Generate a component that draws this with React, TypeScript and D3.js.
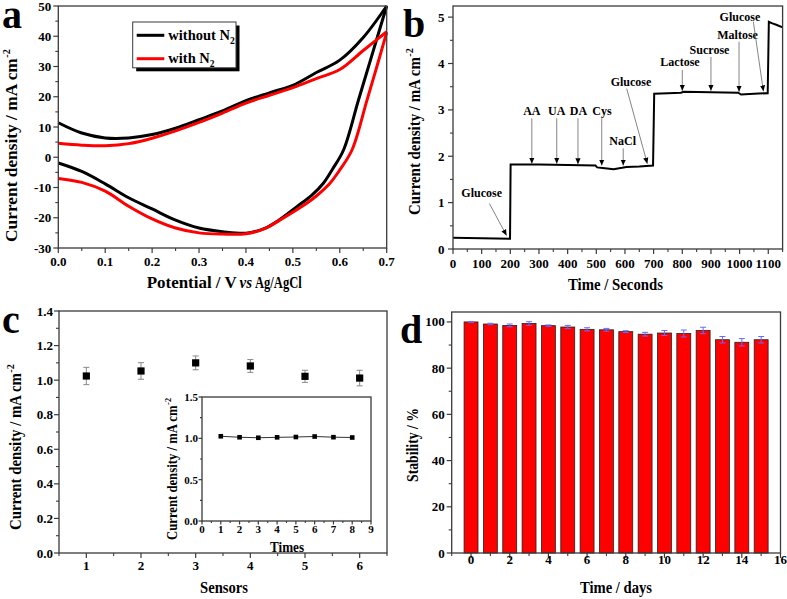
import React from "react";
import * as d3 from "d3";

const FONT = "'Liberation Serif','Times New Roman',serif";

// ---------------- Panel a : cyclic voltammograms ----------------
const aTicksX = [0, 0.1, 0.2, 0.3, 0.4, 0.5, 0.6, 0.7];
const aTicksY = [-30, -20, -10, 0, 10, 20, 30, 40, 50];
const aFwdE = [0, 0.05, 0.1, 0.15, 0.2, 0.25, 0.3, 0.35, 0.4, 0.45, 0.5, 0.55, 0.6, 0.65, 0.7];
const aBlackFwdJ = [11.4, 8.0, 6.4, 6.4, 7.5, 9.6, 12.4, 15.3, 18.7, 21.3, 23.8, 28.0, 32.1, 39.6, 50];
const aRedFwdJ = [4.6, 4.0, 3.8, 4.5, 6.3, 8.7, 11.5, 14.6, 17.9, 20.5, 23.0, 26.0, 29.0, 35.3, 41.5];
const aBlackRevE = [0.7, 0.67, 0.64, 0.608, 0.585, 0.565, 0.54, 0.508, 0.47, 0.44, 0.4, 0.35, 0.3, 0.25, 0.2, 0.15, 0.1, 0.05, 0];
const aBlackRevJ = [50, 34.5, 19, 2.4, -3.8, -8.6, -12.6, -16.4, -20.8, -23.5, -25.1, -24.6, -23.4, -20.8, -17.1, -13.4, -8.8, -4.7, -1.9];
const aRedRevE = [0.7, 0.68, 0.658, 0.626, 0.6, 0.579, 0.55, 0.519, 0.473, 0.44, 0.4, 0.35, 0.3, 0.25, 0.2, 0.15, 0.1, 0.05, 0];
const aRedRevJ = [41.3, 30.5, 18.9, 2.4, -4.2, -8.6, -12.8, -16.3, -20.7, -23.6, -25.3, -25.4, -25, -23.4, -20.4, -16.2, -11.2, -8.3, -7];
const aSeriesNames = ["without N", "with N"];
const aSeriesColors = ["#000000", "#ff0000"];

// ---------------- Panel b : amperometric response ----------------
const bTicksX = [0, 100, 200, 300, 400, 500, 600, 700, 800, 900, 1000, 1100];
const bTicksY = [0, 1, 2, 3, 4, 5];
const bTime = [0, 100, 199, 201, 300, 400, 497, 503, 530, 560, 590, 605, 650, 698, 702, 750, 795, 805, 900, 995, 1005, 1050, 1098, 1102, 1112, 1130, 1150];
const bCurrent = [0.24, 0.23, 0.22, 1.82, 1.82, 1.81, 1.8, 1.76, 1.74, 1.72, 1.75, 1.77, 1.78, 1.8, 3.35, 3.36, 3.37, 3.39, 3.38, 3.37, 3.33, 3.35, 3.36, 4.9, 4.87, 4.83, 4.78];
const bLabels = ["Glucose", "AA", "UA", "DA", "Cys", "NaCl", "Glucose", "Lactose", "Sucrose", "Maltose", "Glucose"];
const bLabelT = [100, 275, 362, 438, 520, 592, 621, 792, 895, 993, 1001];
const bLabelJ = [1.21, 2.97, 2.97, 2.97, 2.97, 2.33, 3.61, 4.04, 4.3, 4.61, 5.0];
const bArrowT1 = [127, 275, 362, 436, 519, 594, 606, 800, 900, 998, 1048];
const bArrowJ1 = [0.98, 2.82, 2.82, 2.82, 2.82, 2.17, 3.46, 3.86, 4.14, 4.47, 4.9];
const bArrowT2 = [187, 275, 362, 436, 519, 594, 678, 800, 900, 998, 1083];
const bArrowJ2 = [0.29, 1.84, 1.84, 1.83, 1.8, 1.8, 1.84, 3.41, 3.41, 3.39, 3.4];

// ---------------- Panel c : reproducibility ----------------
const cSensors = [1, 2, 3, 4, 5, 6];
const cValues = [1.024, 1.053, 1.1, 1.082, 1.022, 1.012];
const cErrors = [0.05, 0.048, 0.04, 0.037, 0.035, 0.045];
const cTicksY = [0, 0.2, 0.4, 0.6, 0.8, 1.0, 1.2, 1.4];
const cInsetTimes = [1, 2, 3, 4, 5, 6, 7, 8];
const cInsetValues = [1.025, 1.013, 1.007, 1.012, 1.016, 1.022, 1.014, 1.01];
const cInsetTicksX = [0, 1, 2, 3, 4, 5, 6, 7, 8, 9];
const cInsetTicksY = [0, 0.5, 1.0, 1.5];

// ---------------- Panel d : stability ----------------
const dDays = [0, 1, 2, 3, 4, 5, 6, 7, 8, 9, 10, 11, 12, 13, 14, 15];
const dStability = [100, 99.1, 98.5, 99.3, 98.4, 97.8, 96.8, 96.6, 95.8, 94.7, 95.2, 95.0, 96.3, 92.3, 91.2, 92.3];
const dErrors = [0.2, 0.3, 0.6, 0.8, 0.3, 0.7, 0.7, 0.6, 0.4, 0.8, 1.1, 1.5, 1.4, 1.4, 1.6, 1.4];
const dTicksX = [0, 2, 4, 6, 8, 10, 12, 14, 16];
const dTicksY = [0, 20, 40, 60, 80, 100];

const FRAME = "#3a3a3a";

type AxesProps = {
  xs: d3.ScaleLinear<number, number>;
  ys: d3.ScaleLinear<number, number>;
  xMajor: number[];
  xMinor: number[];
  yMajor: number[];
  yMinor: number[];
  xFmt: (v: number) => string;
  yFmt: (v: number) => string;
  xLabOff: number;
  yLabOff: number;
  fs: number;
  majLen?: number;
  minLen?: number;
};

function Axes(p: AxesProps) {
  const [x0, x1] = p.xs.range();
  const [y0, y1] = p.ys.range();
  const maj = p.majLen ?? 5;
  const min = p.minLen ?? 3;
  return (
    <g>
      <rect x={x0} y={y1} width={x1 - x0} height={y0 - y1} fill="none" stroke={FRAME} strokeWidth={1.3} />
      {p.xMajor.map((t, i) => (
        <line key={"xM" + i} x1={p.xs(t)} x2={p.xs(t)} y1={y0} y2={y0 + maj} stroke={FRAME} strokeWidth={1.2} />
      ))}
      {p.xMinor.map((t, i) => (
        <line key={"xm" + i} x1={p.xs(t)} x2={p.xs(t)} y1={y0} y2={y0 + min} stroke={FRAME} strokeWidth={1.1} />
      ))}
      {p.yMajor.map((t, i) => (
        <line key={"yM" + i} x1={x0} x2={x0 - maj} y1={p.ys(t)} y2={p.ys(t)} stroke={FRAME} strokeWidth={1.2} />
      ))}
      {p.yMinor.map((t, i) => (
        <line key={"ym" + i} x1={x0} x2={x0 - min} y1={p.ys(t)} y2={p.ys(t)} stroke={FRAME} strokeWidth={1.1} />
      ))}
      {p.xMajor.map((t, i) => (
        <text key={"xl" + i} x={p.xs(t)} y={y0 + p.xLabOff} textAnchor="middle" fontSize={p.fs} fontWeight="bold">
          {p.xFmt(t)}
        </text>
      ))}
      {p.yMajor.map((t, i) => (
        <text key={"yl" + i} x={x0 - p.yLabOff} y={p.ys(t)} dy="0.35em" textAnchor="end" fontSize={p.fs} fontWeight="bold">
          {p.yFmt(t)}
        </text>
      ))}
    </g>
  );
}

function YTitle({ x, yStart, yEnd, fs, text, sup = true }: any) {
  const supLen = sup ? fs * 0.6 : 0;
  const L = yStart - yEnd - supLen;
  return (
    <g transform={`translate(${x},${yStart}) rotate(-90)`}>
      <text x={0} y={0} fontSize={fs} fontWeight="bold" textLength={L} lengthAdjust="spacingAndGlyphs">
        {text}
      </text>
      {sup ? (
        <text x={L + 0.5} y={-fs * 0.42} fontSize={fs * 0.6} fontWeight="bold">
          -2
        </text>
      ) : null}
    </g>
  );
}

function XTitle({ x0, x1, y, fs, text, italic = false }: any) {
  return (
    <text
      x={x0}
      y={y}
      fontSize={fs}
      fontWeight="bold"
      fontStyle={italic ? "italic" : "normal"}
      textLength={x1 - x0}
      lengthAdjust="spacingAndGlyphs"
    >
      {text}
    </text>
  );
}

function minorBetween(ticks: number[], extraBefore = false, extraAfter = false) {
  const out: number[] = [];
  for (let i = 0; i < ticks.length - 1; i++) out.push((ticks[i] + ticks[i + 1]) / 2);
  const step = ticks[1] - ticks[0];
  if (extraBefore) out.unshift(ticks[0] - step / 2);
  if (extraAfter) out.push(ticks[ticks.length - 1] + step / 2);
  return out;
}

export default function App() {
  // ---- panel a
  const ax = d3.scaleLinear().domain([0, 0.7]).range([58.3, 386.7]);
  const ay = d3.scaleLinear().domain([-30, 50]).range([248, 6]);
  const aLine = d3
    .line<[number, number]>()
    .x((d) => ax(d[0]))
    .y((d) => ay(d[1]))
    .curve(d3.curveCatmullRom.alpha(0.5));
  const zip = (a: number[], b: number[]) => a.map((v, i) => [v, b[i]] as [number, number]);
  const aCurves = [
    { color: aSeriesColors[0], fwd: zip(aFwdE, aBlackFwdJ), rev: zip(aBlackRevE, aBlackRevJ) },
    { color: aSeriesColors[1], fwd: zip(aFwdE, aRedFwdJ), rev: zip(aRedRevE, aRedRevJ) },
  ];

  // ---- panel b
  const bx = d3.scaleLinear().domain([0, 1150]).range([453, 782.6]);
  const by = d3.scaleLinear().domain([0, 5.24]).range([249, 6]);
  const bLine = d3
    .line<number>()
    .x((_, i) => bx(bTime[i]))
    .y((d) => by(d));

  // ---- panel c
  const cx = d3.scaleLinear().domain([0.5, 6.5]).range([59, 387]);
  const cy = d3.scaleLinear().domain([0, 1.4]).range([553, 311]);
  const ix = d3.scaleLinear().domain([0, 9]).range([202, 371]);
  const iy = d3.scaleLinear().domain([0, 1.5]).range([521, 397]);
  const iLine = d3
    .line<number>()
    .x((_, i) => ix(cInsetTimes[i]))
    .y((d) => iy(d));

  // ---- panel d
  const dx = d3.scaleLinear().domain([-1, 16]).range([451.7, 780.5]);
  const dy = d3.scaleLinear().domain([0, 104.3]).range([553, 312]);
  const barW = dx(0.36) - dx(-0.36);

  const intFmt = (v: number) => String(v);
  const f1 = (v: number) => v.toFixed(1);

  return (
    <svg
      width={787}
      height={599}
      style={{ position: "absolute", left: 0, top: 0, background: "#fff" }}
      fontFamily={FONT}
    >
      <defs>
        <marker id="arr" viewBox="0 0 8 8" refX="8" refY="4" markerWidth="6" markerHeight="6" orient="auto" markerUnits="userSpaceOnUse">
          <path d="M0,0.5 L8,4 L0,7.5 z" fill="#000" />
        </marker>
      </defs>
      <rect x={0} y={0} width={787} height={599} fill="#fff" />

      {/* ================= Panel a ================= */}
      {aCurves.map((c, i) => (
        <g key={"ac" + i}>
          <path d={aLine(c.fwd) || ""} fill="none" stroke={c.color} strokeWidth={3} />
          <path d={aLine(c.rev) || ""} fill="none" stroke={c.color} strokeWidth={3} />
        </g>
      ))}
      <Axes
        xs={ax}
        ys={ay}
        xMajor={aTicksX}
        xMinor={minorBetween(aTicksX)}
        yMajor={aTicksY}
        yMinor={minorBetween(aTicksY)}
        xFmt={f1}
        yFmt={intFmt}
        xLabOff={18}
        yLabOff={7}
        fs={13}
      />
      {/* legend */}
      <rect x={136.2} y={25.5} width={103.3} height={45.8} fill="#000" />
      <rect x={132.7} y={22} width={103.3} height={45.8} fill="#fff" stroke={FRAME} strokeWidth={1} />
      {aSeriesNames.map((n, i) => (
        <g key={"lg" + i}>
          <line x1={136.7} x2={164.3} y1={35.3 + i * 23.4} y2={35.3 + i * 23.4} stroke={aSeriesColors[i]} strokeWidth={3} />
          <text x={168.3} y={40 + i * 23.4} fontSize={14.5} fontWeight="bold">
            {n}
            <tspan fontSize={9.5} dy={4}>
              2
            </tspan>
          </text>
        </g>
      ))}
      <XTitle x0={146.7} x1={236.7} y={288} fs={17} text="Potential / V" />
      <XTitle x0={239.5} x1={252} y={288} fs={17} text="vs" italic />
      <XTitle x0={255} x1={301.7} y={288} fs={17} text="Ag/AgCl" />
      <YTitle x={17} yStart={242} yEnd={48} fs={17} text="Current density / mA cm" />
      <text x={2} y={28} fontSize={40} fontWeight="bold">
        a
      </text>

      {/* ================= Panel b ================= */}
      <path d={bLine(bCurrent) || ""} fill="none" stroke="#000" strokeWidth={2} />
      {bLabels.map((l, i) => (
        <g key={"ba" + i}>
          <line
            x1={bx(bArrowT1[i])}
            y1={by(bArrowJ1[i])}
            x2={bx(bArrowT2[i])}
            y2={by(bArrowJ2[i])}
            stroke="#666"
            strokeWidth={0.8}
            markerEnd="url(#arr)"
          />
          <text x={bx(bLabelT[i])} y={by(bLabelJ[i])} dy="0.35em" textAnchor="middle" fontSize={12} fontWeight="bold">
            {l}
          </text>
        </g>
      ))}
      <Axes
        xs={bx}
        ys={by}
        xMajor={bTicksX}
        xMinor={minorBetween(bTicksX, false, true)}
        yMajor={bTicksY}
        yMinor={minorBetween(bTicksY)}
        xFmt={intFmt}
        yFmt={intFmt}
        xLabOff={19}
        yLabOff={8.5}
        fs={13}
      />
      <XTitle x0={568} x1={663} y={290} fs={17} text="Time / Seconds" />
      <YTitle x={420} yStart={215} yEnd={47} fs={17} text="Current density / mA cm" />
      <text x={403} y={37} fontSize={40} fontWeight="bold">
        b
      </text>

      {/* ================= Panel c ================= */}
      <Axes
        xs={cx}
        ys={cy}
        xMajor={cSensors}
        xMinor={minorBetween(cSensors, true, true)}
        yMajor={cTicksY}
        yMinor={minorBetween(cTicksY)}
        xFmt={intFmt}
        yFmt={f1}
        xLabOff={17}
        yLabOff={6}
        fs={13}
      />
      {cSensors.map((s, i) => (
        <g key={"cp" + i}>
          <line x1={cx(s)} x2={cx(s)} y1={cy(cValues[i] - cErrors[i])} y2={cy(cValues[i] + cErrors[i])} stroke="#888" strokeWidth={1} />
          <line x1={cx(s) - 3} x2={cx(s) + 3} y1={cy(cValues[i] - cErrors[i])} y2={cy(cValues[i] - cErrors[i])} stroke="#888" strokeWidth={1} />
          <line x1={cx(s) - 3} x2={cx(s) + 3} y1={cy(cValues[i] + cErrors[i])} y2={cy(cValues[i] + cErrors[i])} stroke="#888" strokeWidth={1} />
          <rect x={cx(s) - 3.6} y={cy(cValues[i]) - 3.6} width={7.2} height={7.2} fill="#000" />
        </g>
      ))}
      {/* inset */}
      <rect x={202} y={397} width={169} height={124} fill="#fff" />
      <path d={iLine(cInsetValues) || ""} fill="none" stroke="#333" strokeWidth={1} />
      {cInsetTimes.map((t, i) => (
        <rect key={"ip" + i} x={ix(t) - 2.3} y={iy(cInsetValues[i]) - 2.3} width={4.6} height={4.6} fill="#000" />
      ))}
      <Axes
        xs={ix}
        ys={iy}
        xMajor={cInsetTicksX}
        xMinor={minorBetween(cInsetTicksX)}
        yMajor={cInsetTicksY}
        yMinor={minorBetween(cInsetTicksY)}
        xFmt={intFmt}
        yFmt={f1}
        xLabOff={12}
        yLabOff={4}
        fs={11}
        majLen={3.5}
        minLen={2}
      />
      <XTitle x0={270} x1={304} y={552} fs={14} text="Times" />
      <YTitle x={177} yStart={540} yEnd={397} fs={14} text="Current density / mA cm" />
      <XTitle x0={200} x1={248} y={593} fs={17} text="Sensors" />
      <YTitle x={21} yStart={530} yEnd={363} fs={17} text="Current density / mA cm" />
      <text x={2} y={333} fontSize={40} fontWeight="bold">
        c
      </text>

      {/* ================= Panel d ================= */}
      {dDays.map((t, i) => (
        <rect
          key={"db" + i}
          x={dx(t) - barW / 2}
          y={dy(dStability[i])}
          width={barW}
          height={dy(0) - dy(dStability[i])}
          fill="#ff0000"
          stroke="#222"
          strokeWidth={0.8}
        />
      ))}
      {dDays.map((t, i) => (
        <g key={"de" + i}>
          <line x1={dx(t)} x2={dx(t)} y1={dy(dStability[i] - dErrors[i])} y2={dy(dStability[i] + dErrors[i])} stroke="#6a6aff" strokeWidth={1} />
          <line x1={dx(t) - 3} x2={dx(t) + 3} y1={dy(dStability[i] - dErrors[i])} y2={dy(dStability[i] - dErrors[i])} stroke="#6a6aff" strokeWidth={1} />
          <line x1={dx(t) - 3} x2={dx(t) + 3} y1={dy(dStability[i] + dErrors[i])} y2={dy(dStability[i] + dErrors[i])} stroke="#6a6aff" strokeWidth={1} />
        </g>
      ))}
      <Axes
        xs={dx}
        ys={dy}
        xMajor={dTicksX}
        xMinor={minorBetween(dTicksX, true, false)}
        yMajor={dTicksY}
        yMinor={minorBetween(dTicksY)}
        xFmt={intFmt}
        yFmt={intFmt}
        xLabOff={11}
        yLabOff={7}
        fs={13}
      />
      <XTitle x0={580} x1={652} y={593} fs={17} text="Time / days" />
      <YTitle x={418} yStart={482} yEnd={408} fs={17} text="Stability / %" sup={false} />
      <text x={400} y={343} fontSize={40} fontWeight="bold">
        d
      </text>
    </svg>
  );
}
